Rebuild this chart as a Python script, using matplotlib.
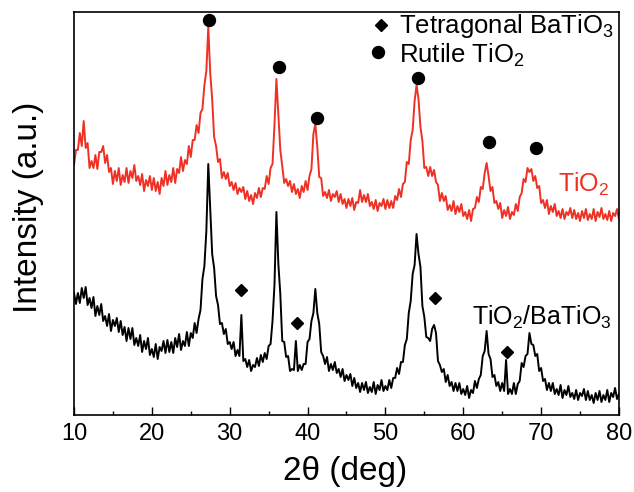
import numpy as np
import matplotlib
matplotlib.use('Agg')
import matplotlib.pyplot as plt

plt.rcParams['font.family'] = ['Liberation Sans', 'DejaVu Sans']
plt.rcParams['mathtext.fontset'] = 'custom'
plt.rcParams['mathtext.rm'] = 'Liberation Sans'
plt.rcParams['mathtext.it'] = 'Liberation Sans:italic'

# 2theta grid, 10 to 80 deg in 0.25 deg steps (281 points)
two_theta = np.linspace(10, 80, 281)

# TiO2/BaTiO3 pattern (a.u.), 8 values per 2 deg
tio2_batio3 = [
    122, 111, 122, 112, 127, 117, 128, 110,
    117, 107, 118, 99, 109, 100, 111, 94,
    99, 89, 101, 84, 95, 89, 97, 83,
    94, 80, 88, 74, 87, 76, 87, 70,
    77, 69, 80, 63, 74, 66, 77, 60,
    66, 58, 71, 56, 68, 64, 74, 62,
    75, 63, 73, 62, 77, 68, 81, 65,
    74, 69, 83, 69, 82, 77, 92, 82,
    96, 105, 136, 149, 184, 251, 206, 161,
    147, 119, 110, 91, 92, 81, 86, 71,
    73, 66, 73, 59, 65, 59, 100, 54,
    56, 48, 55, 44, 50, 48, 57, 49,
    60, 53, 62, 56, 69, 71, 94, 130,
    203, 151, 121, 74, 73, 58, 59, 44,
    46, 45, 74, 44, 50, 45, 51, 51,
    73, 76, 94, 102, 126, 102, 91, 63,
    59, 51, 58, 44, 51, 45, 53, 42,
    46, 38, 46, 34, 40, 35, 41, 29,
    37, 27, 32, 23, 32, 25, 33, 22,
    28, 23, 33, 21, 30, 25, 35, 24,
    29, 25, 35, 27, 37, 37, 47, 41,
    53, 53, 70, 76, 102, 114, 141, 150,
    181, 161, 148, 109, 98, 78, 77, 74,
    86, 90, 82, 54, 50, 43, 46, 33,
    40, 29, 33, 24, 32, 24, 32, 21,
    26, 20, 29, 17, 25, 22, 34, 27,
    36, 40, 59, 64, 84, 61, 56, 38,
    40, 29, 33, 24, 32, 24, 55, 21,
    26, 21, 32, 21, 31, 34, 52, 48,
    59, 61, 82, 71, 70, 59, 61, 44,
    47, 34, 36, 25, 32, 24, 32, 21,
    26, 20, 30, 17, 25, 20, 29, 18,
    22, 16, 25, 15, 22, 19, 26, 15,
    24, 15, 20, 12, 22, 15, 24, 13,
    20, 15, 25, 13, 22, 18, 27, 16,
    21,
]

# TiO2 pattern (a.u.), already offset upwards as in the figure
tio2 = [
    250, 265, 265, 282, 269, 294, 267, 272,
    247, 254, 247, 260, 246, 263, 263, 269,
    252, 260, 243, 247, 231, 244, 234, 247,
    230, 240, 233, 247, 232, 244, 237, 250,
    234, 239, 230, 241, 224, 235, 229, 239,
    225, 237, 224, 233, 221, 237, 229, 244,
    230, 240, 233, 247, 232, 246, 242, 258,
    244, 255, 251, 269, 258, 275, 275, 290,
    282, 302, 306, 330, 344, 388, 342, 316,
    278, 269, 253, 256, 237, 243, 236, 242,
    229, 233, 225, 232, 221, 227, 223, 228,
    216, 224, 214, 220, 211, 222, 217, 227,
    218, 227, 226, 239, 231, 247, 251, 290,
    336, 301, 265, 249, 232, 236, 229, 234,
    223, 231, 221, 226, 217, 229, 223, 234,
    225, 239, 246, 281, 291, 268, 238, 237,
    219, 223, 217, 225, 214, 221, 218, 224,
    213, 221, 211, 216, 207, 216, 209, 217,
    205, 213, 212, 225, 213, 220, 213, 221,
    209, 213, 206, 215, 204, 212, 209, 216,
    206, 215, 207, 214, 207, 219, 215, 226,
    218, 231, 233, 253, 251, 275, 285, 314,
    330, 316, 288, 274, 247, 248, 239, 248,
    239, 245, 233, 230, 214, 222, 214, 219,
    205, 210, 204, 214, 201, 209, 203, 211,
    199, 203, 196, 205, 194, 206, 207, 218,
    213, 228, 226, 242, 252, 239, 224, 228,
    212, 214, 206, 212, 197, 205, 199, 208,
    196, 203, 200, 211, 204, 218, 222, 236,
    233, 247, 243, 246, 234, 239, 227, 229,
    212, 215, 207, 215, 201, 209, 203, 211,
    199, 204, 197, 206, 196, 203, 200, 207,
    197, 205, 196, 202, 194, 204, 197, 206,
    195, 201, 196, 206, 194, 203, 198, 207,
    196, 201, 195, 204, 194, 202, 199, 206,
    196,
]

# peak markers
rutile_x = [27.3, 36.3, 41.2, 54.2, 63.3, 69.4]
rutile_y = [395, 348, 297, 337, 273, 267]
batio3_x = [31.5, 38.7, 56.4, 65.6]
batio3_y = [125, 92, 117, 63]

red = '#ee3124'

fig = plt.figure(figsize=(6.34, 4.92), dpi=100)
ax = fig.add_axes([0.1167, 0.1565, 0.8596, 0.8191])

ax.plot(two_theta, tio2_batio3, color='black', lw=1.4)
ax.plot(two_theta, tio2, color=red, lw=1.4)

ax.plot(rutile_x, rutile_y, 'o', color='black', ms=8.6, ls='none')
ax.plot(batio3_x, batio3_y, 'D', color='black', ms=6.2, ls='none')

# legend drawn by hand
ax.plot([0.5633], [0.9677], 'D', color='black', ms=6.2, transform=ax.transAxes, clip_on=False)
ax.plot([0.5578], [0.9007], 'o', color='black', ms=8.6, transform=ax.transAxes, clip_on=False)
ax.text(0.5963, 0.948, 'Tetragonal BaTiO$_3$', fontsize=18.5, transform=ax.transAxes, va='baseline')
ax.text(0.5963, 0.8734, 'Rutile TiO$_2$', fontsize=18.5, transform=ax.transAxes, va='baseline')

ax.text(0.888, 0.5533, 'TiO$_2$', fontsize=18, color=red, transform=ax.transAxes, va='baseline')
ax.text(0.730, 0.2233, 'TiO$_2$/BaTiO$_3$', fontsize=18, transform=ax.transAxes, va='baseline')

ax.set_xlim(10, 80)
ax.set_ylim(0, 403)
ax.set_xticks([10, 20, 30, 40, 50, 60, 70, 80])
ax.set_xticks([15, 25, 35, 45, 55, 65, 75], minor=True)
ax.set_yticks([])
ax.tick_params(axis='x', which='major', direction='in', length=6, width=1, labelsize=17, pad=6)
ax.tick_params(axis='x', which='minor', direction='in', length=3, width=1)
for s in ax.spines.values():
    s.set_linewidth(1.2)

ax.set_xlabel('2θ (deg)', fontsize=24)
ax.set_ylabel('Intensity (a.u.)', fontsize=24)
ax.xaxis.set_label_coords(0.497, -0.1017)
ax.yaxis.set_label_coords(-0.055, 0.516)

fig.savefig('out.png', dpi=100)
